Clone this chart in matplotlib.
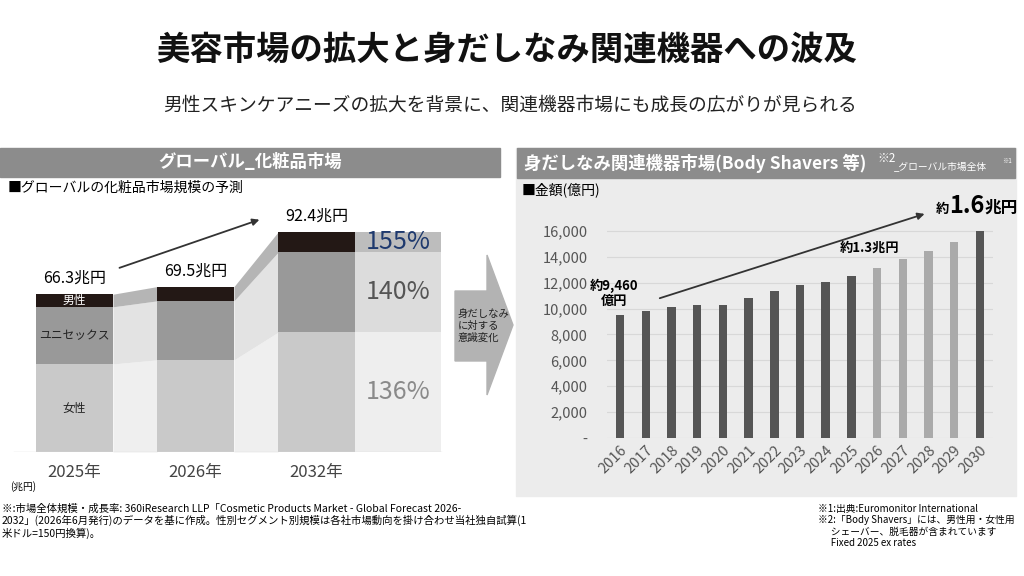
import numpy as np
import matplotlib.pyplot as plt
from matplotlib.patches import Rectangle, Polygon

plt.rcParams['font.family'] = ['Noto Sans CJK JP', 'DejaVu Sans']

# left chart: global cosmetics market (兆円)
years_left = ["2025年", "2026年", "2032年"]
female = [37.0, 38.7, 50.3]
unisex = [24.0, 24.8, 33.6]
male = [5.3, 6.0, 8.5]
totals = ["66.3兆円", "69.5兆円", "92.4兆円"]
growth = ["136%", "140%", "155%"]

# right chart: body shavers market (億円)
years_right = list(range(2016, 2031))
shaver_values = [9460, 9830, 10120, 10270, 10300, 10810, 11370, 11810,
                 12040, 12480, 13150, 13790, 14460, 15170, 16000]
forecast = [False] * 10 + [True] * 4 + [False]

W, H = 1024, 576
fig = plt.figure(figsize=(W / 100, H / 100), dpi=100)

# background pixel axes for decoration and text
bg = fig.add_axes([0, 0, 1, 1])
bg.set_xlim(0, W)
bg.set_ylim(H, 0)
bg.axis("off")

bg.text(507, 50, "美容市場の拡大と身だしなみ関連機器への波及", ha="center", va="center",
        fontsize=24, fontweight="bold", color="#111111")
bg.text(510, 105, "男性スキンケアニーズの拡大を背景に、関連機器市場にも成長の広がりが見られる",
        ha="center", va="center", fontsize=13.5, color="#222222")

# headers
bg.add_patch(Rectangle((0, 148), 500, 29, color="#8c8c8c"))
bg.text(250, 162, "グローバル_化粧品市場", ha="center", va="center", fontsize=12.5,
        color="white", fontweight="bold")
bg.add_patch(Rectangle((516, 148), 500, 348, color="#ececec"))
bg.add_patch(Rectangle((517, 148), 498, 30, color="#8c8c8c"))
bg.text(524, 163, "身だしなみ関連機器市場(Body Shavers 等)", ha="left", va="center",
        fontsize=12.5, color="white", fontweight="bold")
bg.text(877, 159, "※2", ha="left", va="center", fontsize=8.5, color="white")
bg.text(894, 166, "_グローバル市場全体", ha="left", va="center", fontsize=7, color="white")
bg.text(1002, 161, "※1", ha="left", va="center", fontsize=4.5, color="white")

bg.text(8, 188, "■グローバルの化粧品市場規模の予測", ha="left", va="center", fontsize=10)
bg.text(522, 190, "■金額(億円)", ha="left", va="center", fontsize=10)

# middle arrow
bg.add_patch(Polygon([(455, 291), (487, 291), (487, 255), (513, 325), (487, 395),
                      (487, 361), (455, 361)], closed=True, color="#b3b3b3"))
bg.text(458, 326, "身だしなみ\nに対する\n意識変化", ha="left", va="center",
        fontsize=7.5, color="#222222", linespacing=1.25)

# footnotes
bg.text(10, 487, "(兆円)", ha="left", va="center", fontsize=7)
bg.text(2, 521, "※:市場全体規模・成長率: 360iResearch LLP「Cosmetic Products Market - Global Forecast 2026-\n"
        "2032」(2026年6月発行)のデータを基に作成。性別セグメント別規模は各社市場動向を掛け合わせ当社独自試算(1\n"
        "米ドル=150円換算)。", ha="left", va="center", fontsize=7.5, linespacing=1.15)
bg.text(818, 526, "※1:出典:Euromonitor International\n※2:「Body Shavers」には、男性用・女性用\n"
        "      シェーバー、脱毛器が含まれています\n      Fixed 2025 ex rates",
        ha="left", va="center", fontsize=7, linespacing=1.15)

# ---- left stacked chart ----
base_px, top_px = 452, 160
axl = fig.add_axes([0, (H - base_px) / H, 500 / W, (base_px - top_px) / H])
axl.set_ylim(0, (base_px - top_px) / 2.38)
axl.set_xlim(-74.5 / 121, (500 - 74.5) / 121)
axl.axis("off")
x = np.arange(3)
w = 0.636
f = np.array(female)
u = np.array(unisex)
m = np.array(male)
levels = [np.zeros(3), f, f + u, f + u + m]
band_colors = ["#efefef", "#e3e3e3", "#b5b5b5"]
for i in range(2):
    xs = [x[i] + w / 2, x[i + 1] - w / 2]
    for k in range(3):
        axl.fill_between(xs, [levels[k][i], levels[k][i + 1]],
                         [levels[k + 1][i], levels[k + 1][i + 1]],
                         color=band_colors[k], lw=0)
ext_colors = ["#eeeeee", "#dcdcdc", "#bdbdbd"]
for k in range(3):
    axl.fill_between([x[2] + w / 2, 3.03], levels[k][2], levels[k + 1][2],
                     color=ext_colors[k], lw=0)
axl.bar(x, f, w, color="#c9c9c9")
axl.bar(x, u, w, bottom=f, color="#999999")
axl.bar(x, m, w, bottom=f + u, color="#231815")
axl.plot([-0.5, 3.03], [0, 0], color="#dddddd", lw=1)
for i in range(3):
    axl.text(x[i], levels[3][i] + 3, totals[i], ha="center", va="bottom", fontsize=11.5)
    axl.text(x[i], -5, years_left[i], ha="center", va="top", fontsize=12, color="#444444")
axl.text(0, f[0] + u[0] + m[0] / 2, "男性", ha="center", va="center", fontsize=8.5, color="white")
axl.text(0, f[0] + u[0] / 2, "ユニセックス", ha="center", va="center", fontsize=8.5, color="#222222")
axl.text(0, f[0] / 2, "女性", ha="center", va="center", fontsize=8.5, color="#222222")
xe = (x[2] + w / 2 + 3.03) / 2
axl.text(xe, f[2] / 2, growth[0], ha="center", va="center", fontsize=18, color="#8a8a8a")
axl.text(xe, f[2] + u[2] / 2, growth[1], ha="center", va="center", fontsize=18, color="#555555")
axl.text(xe, levels[3][2] - m[2] / 2, growth[2], ha="center", va="center", fontsize=18,
         color="#1f3a6e")
axl.annotate("", xy=(1.55, 98), xytext=(0.35, 77),
             arrowprops=dict(arrowstyle="-|>", color="#333333", lw=1.3))

# ---- right bar chart ----
rb, rt = 438, 190
axr = fig.add_axes([607 / W, (H - rb) / H, (993 - 607) / W, (rb - rt) / H])
axr.set_xlim(2015.49, 2030.51)
axr.patch.set_alpha(0)
colors = ["#aaaaaa" if fc else "#555555" for fc in forecast]
axr.bar(years_right, shaver_values, 0.33, color=colors, zorder=3)
axr.set_yticks(range(0, 16001, 2000))
axr.set_yticklabels(["-"] + [f"{v:,}" for v in range(2000, 16001, 2000)])
axr.yaxis.grid(True, color="#d8d8d8", lw=0.8, zorder=0)
axr.set_xticks(years_right)
axr.set_xticklabels([str(y) for y in years_right], rotation=45, ha="right",
                    rotation_mode="anchor")
axr.tick_params(axis="both", length=0, labelsize=10.5, colors="#555555")
axr.tick_params(axis="y", pad=14)
for s in axr.spines.values():
    s.set_visible(False)
axr.set_ylim(0, (rb - rt) / 25.9 * 2000)
axr.annotate("", xy=(2027.95, 17370), xytext=(2017.44, 10730),
             arrowprops=dict(arrowstyle="-|>", color="#333333", lw=1.3), annotation_clip=False)
axr.text(2015.75, 11150, "約9,460\n億円", ha="center", va="center", fontsize=9.5,
         fontweight="bold", linespacing=1.1)
axr.text(2025.7, 14700, "約1.3兆円", ha="center", va="center", fontsize=9.5, fontweight="bold")
bg.text(936, 209, "約", ha="left", va="center", fontsize=9.5, fontweight="bold")
bg.text(949, 206, "1.6", ha="left", va="center", fontsize=17, fontweight="bold")
bg.text(985, 208, "兆円", ha="left", va="center", fontsize=12, fontweight="bold")

fig.savefig("out.png", dpi=100)
